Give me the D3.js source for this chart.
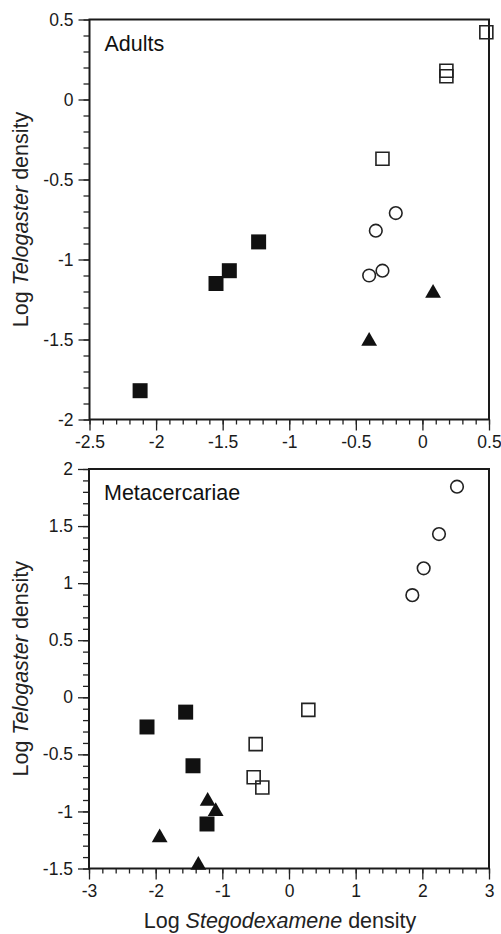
<!DOCTYPE html>
<html>
<head>
<meta charset="utf-8">
<script src="https://cdn.jsdelivr.net/npm/d3@7"></script>
<style>
  html, body { margin: 0; padding: 0; background: #fff; }
  svg { display: block; font-family: "Liberation Sans", Arial, Helvetica, sans-serif; }
</style>
</head>
<body>
<svg id="chart" width="501" height="934"></svg>
<script>
// ---- Data: Adults panel ----
const adultsFilledSquareX = [-2.12, -1.55, -1.45, -1.23];
const adultsFilledSquareY = [-1.82, -1.15, -1.07, -0.89];
const adultsTriangleX = [-0.40, 0.08];
const adultsTriangleY = [-1.51, -1.21];
const adultsCircleX = [-0.40, -0.30, -0.35, -0.20];
const adultsCircleY = [-1.10, -1.07, -0.82, -0.71];
const adultsOpenSquareX = [-0.30, 0.18, 0.18, 0.48];
const adultsOpenSquareY = [-0.37, 0.18, 0.145, 0.42];

// ---- Data: Metacercariae panel ----
const metaFilledSquareX = [-2.13, -1.55, -1.44, -1.23];
const metaFilledSquareY = [-0.26, -0.13, -0.60, -1.11];
const metaTriangleX = [-1.22, -1.10, -1.94, -1.36];
const metaTriangleY = [-0.91, -1.00, -1.23, -1.47];
const metaCircleX = [2.52, 2.25, 2.02, 1.85];
const metaCircleY = [1.845, 1.43, 1.13, 0.895];
const metaOpenSquareX = [0.29, -0.50, -0.53, -0.40];
const metaOpenSquareY = [-0.11, -0.41, -0.70, -0.79];

// ---- Axis ticks ----
const adultsXTicks = [-2.5, -2, -1.5, -1, -0.5, 0, 0.5];
const adultsYTicks = [-2, -1.5, -1, -0.5, 0, 0.5];
const metaXTicks = [-3, -2, -1, 0, 1, 2, 3];
const metaYTicks = [-1.5, -1, -0.5, 0, 0.5, 1, 1.5, 2];

const svg = d3.select("#chart");
const fmt = d => (Object.is(d, -0) ? "0" : String(d));

function zip(xs, ys) { return xs.map((x, i) => ({ x: x, y: ys[i] })); }

function panel(cfg) {
  const x = d3.scaleLinear().domain(cfg.xDomain).range([cfg.left, cfg.right]);
  const y = d3.scaleLinear().domain(cfg.yDomain).range([cfg.bottom, cfg.top]);
  const g = svg.append("g");

  const xMinor = d3.range(cfg.xDomain[0], cfg.xDomain[1] + 1e-9, cfg.xMinorStep);
  const yMinor = d3.range(cfg.yDomain[0], cfg.yDomain[1] + 1e-9, cfg.yMinorStep);

  const xAxisMinor = d3.axisBottom(x).tickValues(xMinor).tickSize(5).tickFormat("");
  const yAxisMinor = d3.axisLeft(y).tickValues(yMinor).tickSize(6).tickFormat("");
  const xAxis = d3.axisBottom(x).tickValues(cfg.xTicks).tickSize(11).tickPadding(5).tickFormat(fmt);
  const yAxis = d3.axisLeft(y).tickValues(cfg.yTicks).tickSize(11).tickPadding(5).tickFormat(fmt);

  [xAxisMinor, xAxis].forEach(a => {
    const ag = g.append("g").attr("transform", `translate(0,${cfg.bottom})`).call(a);
    ag.attr("font-size", 17.5).attr("font-family", "Liberation Sans, Arial, sans-serif");
    ag.select(".domain").remove();
    ag.selectAll("line").attr("stroke", "#222").attr("stroke-width", 1.3);
    ag.selectAll("text").attr("fill", "#1a1a1a");
  });
  [yAxisMinor, yAxis].forEach(a => {
    const ag = g.append("g").attr("transform", `translate(${cfg.left},0)`).call(a);
    ag.attr("font-size", 17.5).attr("font-family", "Liberation Sans, Arial, sans-serif");
    ag.select(".domain").remove();
    ag.selectAll("line").attr("stroke", "#222").attr("stroke-width", 1.3);
    ag.selectAll("text").attr("fill", "#1a1a1a");
  });

  // frame
  g.append("rect")
    .attr("x", cfg.left).attr("y", cfg.top)
    .attr("width", cfg.right - cfg.left).attr("height", cfg.bottom - cfg.top)
    .attr("fill", "none").attr("stroke", "#1a1a1a").attr("stroke-width", 2);

  // panel label
  g.append("text").attr("x", cfg.left + 15).attr("y", cfg.top + cfg.labelDy)
    .attr("font-size", 21.5).attr("fill", "#111").text(cfg.label);

  // y title
  const yt = g.append("text")
    .attr("transform", `translate(28,${(cfg.top + cfg.bottom) / 2}) rotate(-90)`)
    .attr("text-anchor", "middle").attr("font-size", 21.5).attr("fill", "#222");
  yt.append("tspan").text("Log ");
  yt.append("tspan").attr("font-style", "italic").text("Telogaster");
  yt.append("tspan").text(" density");

  const sym = (type, size) => d3.symbol().type(type).size(size)();

  g.selectAll(null).data(cfg.openSquares).join("path")
    .attr("d", sym(d3.symbolSquare, 13 * 13))
    .attr("transform", d => `translate(${x(d.x)},${y(d.y)})`)
    .attr("fill", "none").attr("stroke", "#222").attr("stroke-width", 1.6);
  g.selectAll(null).data(cfg.circles).join("path")
    .attr("d", sym(d3.symbolCircle, Math.PI * 6.3 * 6.3))
    .attr("transform", d => `translate(${x(d.x)},${y(d.y)})`)
    .attr("fill", "none").attr("stroke", "#222").attr("stroke-width", 1.6);
  g.selectAll(null).data(cfg.filledSquares).join("path")
    .attr("d", sym(d3.symbolSquare, 15 * 15))
    .attr("transform", d => `translate(${x(d.x)},${y(d.y)})`)
    .attr("fill", "#111");
  g.selectAll(null).data(cfg.triangles).join("path")
    .attr("d", sym(d3.symbolTriangle, 108))
    .attr("transform", d => `translate(${x(d.x)},${y(d.y)})`)
    .attr("fill", "#111");

  return { x, y };
}

panel({
  xDomain: [-2.5, 0.5], yDomain: [-2, 0.5],
  left: 89.5, right: 489, top: 19.5, bottom: 419.5,
  xTicks: adultsXTicks, yTicks: adultsYTicks,
  xMinorStep: 0.1, yMinorStep: 0.1,
  label: "Adults", labelDy: 31,
  filledSquares: zip(adultsFilledSquareX, adultsFilledSquareY),
  triangles: zip(adultsTriangleX, adultsTriangleY),
  circles: zip(adultsCircleX, adultsCircleY),
  openSquares: zip(adultsOpenSquareX, adultsOpenSquareY)
});

panel({
  xDomain: [-3, 3], yDomain: [-1.5, 2],
  left: 89, right: 489, top: 469, bottom: 868.5,
  xTicks: metaXTicks, yTicks: metaYTicks,
  xMinorStep: 0.2, yMinorStep: 0.1,
  label: "Metacercariae", labelDy: 31,
  filledSquares: zip(metaFilledSquareX, metaFilledSquareY),
  triangles: zip(metaTriangleX, metaTriangleY),
  circles: zip(metaCircleX, metaCircleY),
  openSquares: zip(metaOpenSquareX, metaOpenSquareY)
});

const xt = svg.append("text").attr("x", 280).attr("y", 928)
  .attr("text-anchor", "middle").attr("font-size", 21.5).attr("fill", "#222");
xt.append("tspan").text("Log ");
xt.append("tspan").attr("font-style", "italic").text("Stegodexamene");
xt.append("tspan").text(" density");
</script>
</body>
</html>
